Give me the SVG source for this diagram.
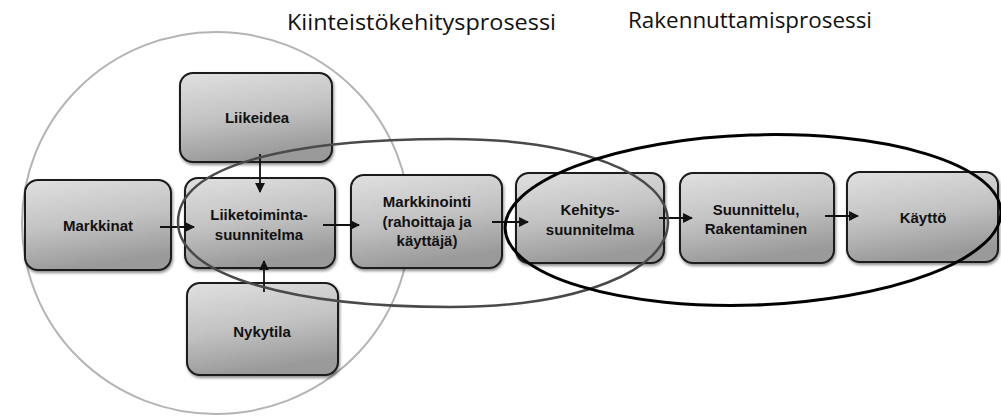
<svg xmlns="http://www.w3.org/2000/svg" width="1001" height="416" viewBox="0 0 1001 416">
<style>
.box{fill:url(#g);stroke:#1a1a1a;stroke-width:2;filter:url(#sh)}
.lbl{font-family:"Liberation Sans",Arial,sans-serif;font-weight:bold;font-size:15px;fill:#111;text-anchor:middle}
.title{font-family:"Open Sans","Liberation Sans",Arial,sans-serif;font-size:21px;fill:#111}
.arr{stroke:#111;stroke-width:1.8;fill:none;marker-end:url(#ah)}
</style>
<defs>
<linearGradient id="g" x1="0" y1="0" x2="0.25" y2="1">
<stop offset="0" stop-color="#e0e0e0"/>
<stop offset="0.55" stop-color="#c2c2c2"/>
<stop offset="1" stop-color="#9a9a9a"/>
</linearGradient>
<filter id="sh" x="-10%" y="-10%" width="125%" height="130%">
<feDropShadow dx="1" dy="2" stdDeviation="1.5" flood-color="#000" flood-opacity="0.45"/>
</filter>
<marker id="ah" viewBox="0 0 10 10" refX="9" refY="5" markerWidth="5.5" markerHeight="5.5" orient="auto" markerUnits="strokeWidth">
<path d="M0,0 L10,5 L0,10 Z" fill="#111"/>
</marker>
</defs>
<rect width="1001" height="416" fill="#ffffff"/>
<text class="title" x="287" y="30" textLength="269" lengthAdjust="spacingAndGlyphs">Kiinteistökehitysprosessi</text>
<text class="title" x="628" y="28" textLength="244" lengthAdjust="spacingAndGlyphs">Rakennuttamisprosessi</text>
<ellipse id="circle" cx="216" cy="223" rx="194" ry="191" fill="none" stroke="#b4b4b4" stroke-width="2"/>
<g id="markkinat"><rect class="box" x="25" y="180" width="146" height="90" rx="13"/><text class="lbl" x="98" y="231">Markkinat</text></g>
<g id="liikeidea"><rect class="box" x="180" y="73" width="152" height="89" rx="13"/><text class="lbl" x="257" y="123">Liikeidea</text></g>
<g id="liiketoiminta"><rect class="box" x="185" y="178" width="150" height="90" rx="13"/><text class="lbl" x="259" y="220">Liiketoiminta-</text><text class="lbl" x="259" y="240">suunnitelma</text></g>
<g id="nykytila"><rect class="box" x="187" y="283" width="151" height="92" rx="13"/><text class="lbl" x="262" y="337">Nykytila</text></g>
<g id="markkinointi"><rect class="box" x="351" y="175" width="151" height="93" rx="13"/><text class="lbl" x="427" y="207">Markkinointi</text><text class="lbl" x="427" y="227">(rahoittaja ja</text><text class="lbl" x="427" y="246">käyttäjä)</text></g>
<g id="kehitys"><rect class="box" x="516" y="173" width="148" height="90" rx="13"/><text class="lbl" x="590" y="215">Kehitys-</text><text class="lbl" x="590" y="235">suunnitelma</text></g>
<g id="suunnittelu"><rect class="box" x="680" y="173" width="154" height="90" rx="13"/><text class="lbl" x="756" y="215">Suunnittelu,</text><text class="lbl" x="756" y="234">Rakentaminen</text></g>
<g id="kaytto"><rect class="box" x="847" y="172" width="151" height="90" rx="13"/><text class="lbl" x="923" y="223">Käyttö</text></g>
<g id="connectors">
<line class="arr" x1="260" y1="154" x2="260" y2="192"/>
<line class="arr" x1="264" y1="292" x2="264" y2="261"/>
<line class="arr" x1="160" y1="227" x2="194" y2="227"/>
<line class="arr" x1="323" y1="225" x2="359" y2="225"/>
<line class="arr" x1="492" y1="222" x2="528" y2="222"/>
<line class="arr" x1="659" y1="218" x2="692" y2="218"/>
<line class="arr" x1="825" y1="216" x2="858" y2="216"/>
</g>
<path id="kiinteisto-ellipse" d="M178,222 C178,165 290,139 450,139 C580,139 668,175 668,222 C668,270 580,307 450,307 C300,307 178,278 178,222 Z" fill="none" stroke="#4a4a4a" stroke-width="2.5"/>
<ellipse id="rakennuttamis-ellipse" cx="753" cy="220" rx="248" ry="85" transform="rotate(-2 753 220)" fill="none" stroke="#000" stroke-width="3"/>
</svg>
